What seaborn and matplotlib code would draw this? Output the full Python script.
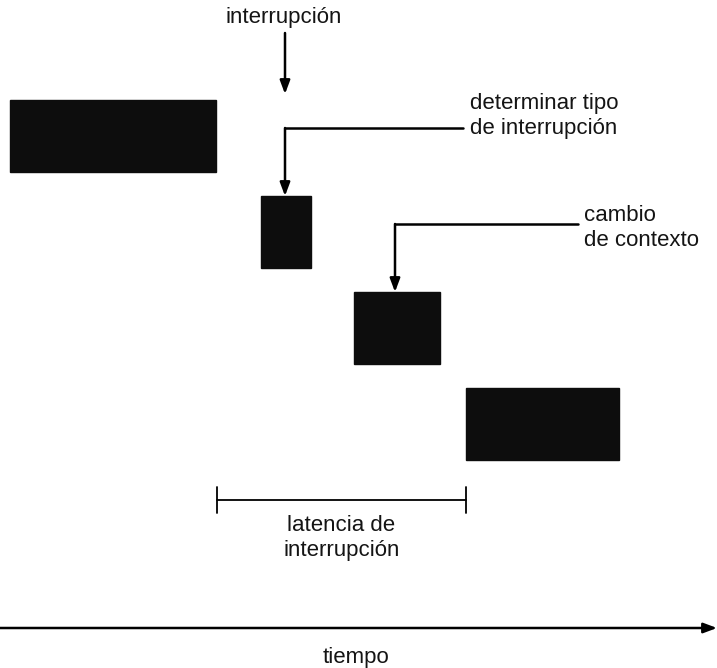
import matplotlib
matplotlib.use("Agg")
import matplotlib.pyplot as plt
import seaborn as sns

# Blocks along the time line (x in pixel-like time units), one row each
block_labels = ["proceso", "tipo", "contexto", "rutina"]
block_start = [10, 261, 354, 466]
block_end = [216, 311, 440, 619]
block_row = [0, 1, 2, 3]

# Annotation texts
interrupt_text = "interrupción"
type_text = "determinar tipo\nde interrupción"
context_text = "cambio\nde contexto"
latency_text = "latencia de\ninterrupción"
time_text = "tiempo"

sns.set_style("white")
plt.rcParams["font.family"] = ["Liberation Sans", "DejaVu Sans"]

fig = plt.figure(figsize=(7.17, 6.68), dpi=100)
ax = fig.add_axes([0, 0, 1, 1])
ax.set_xlim(0, 717)
ax.set_ylim(668, 0)
ax.axis("off")

row_top = 100
row_step = 96
row_h = 72
tops = [row_top + r * row_step for r in block_row]

ax.barh([t + row_h / 2 for t in tops],
        [e - s for s, e in zip(block_start, block_end)],
        left=block_start, height=row_h, color="#0d0d0d", edgecolor="#0d0d0d")

lw = 1.8
head = "-|>,head_length=0.8,head_width=0.3"
arrow = dict(arrowstyle=head, color="black", lw=lw, shrinkA=0, shrinkB=0)
fs = 16
tc = "#141414"

# interrupción arrow
ax.text(284, 18, interrupt_text, ha="center", va="center", fontsize=fs, color=tc)
ax.annotate("", xy=(285, tops[0] - 6), xytext=(285, 33), arrowprops=arrow)

# determinar tipo
x_mid2 = (block_start[1] + block_end[1]) / 2 - 1
ax.plot([463, x_mid2], [128, 128], color="black", lw=lw)
ax.annotate("", xy=(x_mid2, tops[1]), xytext=(x_mid2, 128), arrowprops=arrow)
ax.text(470, 116, type_text, ha="left", va="center", fontsize=fs, color=tc,
        linespacing=1.3)

# cambio de contexto
x_mid3 = (block_start[2] + block_end[2]) / 2 - 2
ax.plot([578, x_mid3], [224, 224], color="black", lw=lw)
ax.annotate("", xy=(x_mid3, tops[2]), xytext=(x_mid3, 224), arrowprops=arrow)
ax.text(584, 228, context_text, ha="left", va="center", fontsize=fs, color=tc,
        linespacing=1.3)

# latency bracket
lat_start = block_end[0] + 1
lat_end = block_start[3]
ax.plot([lat_start, lat_end], [500, 500], color="black", lw=1.3)
ax.plot([lat_start, lat_start], [487, 513], color="black", lw=1.3)
ax.plot([lat_end, lat_end], [487, 513], color="black", lw=1.3)
ax.text((lat_start + lat_end) / 2, 538, latency_text, ha="center", va="center",
        fontsize=fs, color=tc, linespacing=1.3)

# time axis
ax.annotate("", xy=(717, 628), xytext=(0, 628), arrowprops=arrow)
ax.text(356, 657, time_text, ha="center", va="center", fontsize=fs, color=tc)

fig.savefig("out.png", dpi=100, facecolor="white")
